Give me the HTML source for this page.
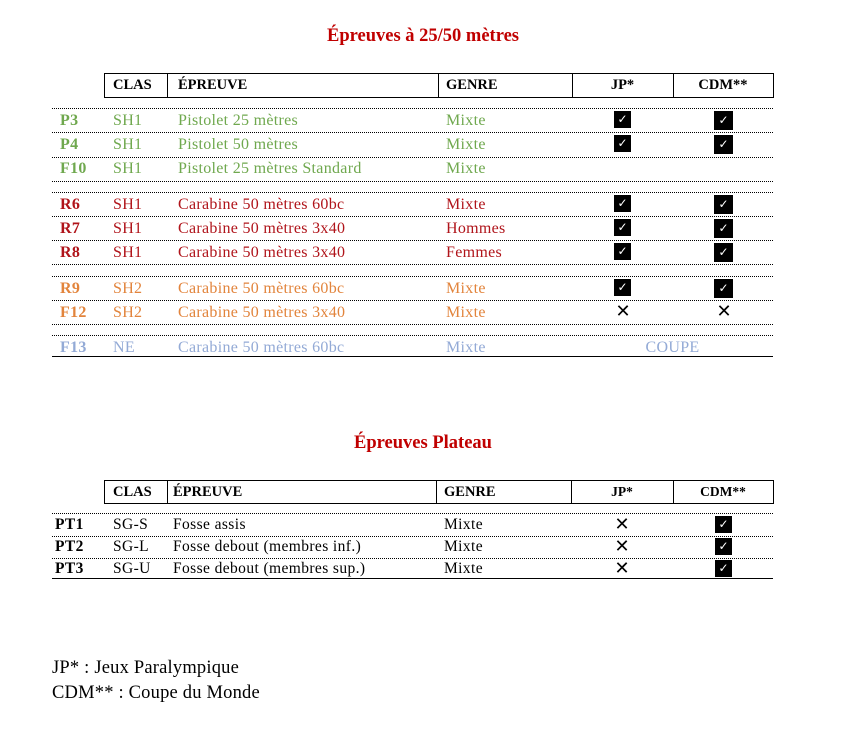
<!DOCTYPE html>
<html><head><meta charset="utf-8"><style>
body{margin:0;width:860px;height:745px;background:#fff;position:relative;overflow:hidden;font-family:"Liberation Serif",serif;}
.t{position:absolute;white-space:nowrap;line-height:20px;height:20px;font-size:16px;letter-spacing:0.3px}
.b{font-weight:bold}
.d{position:absolute;left:52px;width:721px;border-top:1px dotted #000;height:0}
.s{position:absolute;left:52px;width:721px;border-top:1.5px solid #000;height:0}
.hb{position:absolute;left:104px;width:668px;border:1px solid #000;}
.vl{position:absolute;width:0;border-left:1px solid #000}
.g{color:#6fa84e}.r{color:#b0141a}.o{color:#e2843c}.bl{color:#93aad6}
.cb{position:absolute;background:#000;color:#fff;font-family:"DejaVu Sans",sans-serif;font-size:12px;line-height:17px;text-align:center}
.x{position:absolute;font-family:"DejaVu Sans",sans-serif;font-size:18px;line-height:18px;width:20px;text-align:center;color:#000}
.s2{font-size:15.5px;letter-spacing:0.4px}
</style></head><body>
<div class="t b" style="left:0;width:846px;text-align:center;top:26px;font-size:18.5px;letter-spacing:0;color:#c00000">Épreuves à 25/50 mètres</div>
<div class="hb" style="top:73px;height:23px"></div>
<div class="vl" style="left:167px;top:73px;height:24px"></div>
<div class="vl" style="left:438px;top:73px;height:24px"></div>
<div class="vl" style="left:572px;top:73px;height:24px"></div>
<div class="vl" style="left:673px;top:73px;height:24px"></div>
<div class="t b" style="left:113px;top:75px;font-size:14.5px;letter-spacing:0">CLAS</div>
<div class="t b" style="left:178px;top:75px;font-size:14.5px;letter-spacing:0">ÉPREUVE</div>
<div class="t b" style="left:446px;top:75px;font-size:14.5px;letter-spacing:0">GENRE</div>
<div class="t b" style="left:572px;width:101px;text-align:center;top:75px;font-size:14.5px;letter-spacing:0">JP*</div>
<div class="t b" style="left:673px;width:100px;text-align:center;top:75px;font-size:14.5px;letter-spacing:0">CDM**</div>

<div class="d" style="top:108px"></div><div class="d" style="top:132px"></div><div class="d" style="top:157px"></div>
<div class="d" style="top:181px"></div><div class="d" style="top:192px"></div><div class="d" style="top:216px"></div>
<div class="d" style="top:240px"></div><div class="d" style="top:264px"></div><div class="d" style="top:276px"></div>
<div class="d" style="top:300px"></div><div class="d" style="top:324px"></div><div class="d" style="top:335px"></div>
<div class="s" style="top:356px"></div>

<div class="t b g" style="left:60px;top:111px">P3</div><div class="t g" style="left:113px;top:111px">SH1</div><div class="t g" style="left:178px;top:111px">Pistolet 25 mètres</div><div class="t g" style="left:446px;top:111px">Mixte</div>
<div class="t b g" style="left:60px;top:135px">P4</div><div class="t g" style="left:113px;top:135px">SH1</div><div class="t g" style="left:178px;top:135px">Pistolet 50 mètres</div><div class="t g" style="left:446px;top:135px">Mixte</div>
<div class="t b g" style="left:60px;top:159px">F10</div><div class="t g" style="left:113px;top:159px">SH1</div><div class="t g" style="left:178px;top:159px">Pistolet 25 mètres Standard</div><div class="t g" style="left:446px;top:159px">Mixte</div>
<div class="t b r" style="left:60px;top:195px">R6</div><div class="t r" style="left:113px;top:195px">SH1</div><div class="t r" style="left:178px;top:195px">Carabine 50 mètres 60bc</div><div class="t r" style="left:446px;top:195px">Mixte</div>
<div class="t b r" style="left:60px;top:219px">R7</div><div class="t r" style="left:113px;top:219px">SH1</div><div class="t r" style="left:178px;top:219px">Carabine 50 mètres 3x40</div><div class="t r" style="left:446px;top:219px">Hommes</div>
<div class="t b r" style="left:60px;top:243px">R8</div><div class="t r" style="left:113px;top:243px">SH1</div><div class="t r" style="left:178px;top:243px">Carabine 50 mètres 3x40</div><div class="t r" style="left:446px;top:243px">Femmes</div>
<div class="t b o" style="left:60px;top:279px">R9</div><div class="t o" style="left:113px;top:279px">SH2</div><div class="t o" style="left:178px;top:279px">Carabine 50 mètres 60bc</div><div class="t o" style="left:446px;top:279px">Mixte</div>
<div class="t b o" style="left:60px;top:303px">F12</div><div class="t o" style="left:113px;top:303px">SH2</div><div class="t o" style="left:178px;top:303px">Carabine 50 mètres 3x40</div><div class="t o" style="left:446px;top:303px">Mixte</div>
<div class="t b bl" style="left:60px;top:338px">F13</div><div class="t bl" style="left:113px;top:338px">NE</div><div class="t bl" style="left:178px;top:338px">Carabine 50 mètres 60bc</div><div class="t bl" style="left:446px;top:338px">Mixte</div>
<div class="t bl" style="left:572px;width:201px;text-align:center;top:338px">COUPE</div>

<div class="cb" style="left:614px;top:111px;width:17px;height:17px">✓</div><div class="cb" style="left:714px;top:111px;width:19px;height:19px;line-height:19px">✓</div>
<div class="cb" style="left:614px;top:135px;width:17px;height:17px">✓</div><div class="cb" style="left:714px;top:135px;width:19px;height:19px;line-height:19px">✓</div>
<div class="cb" style="left:614px;top:195px;width:17px;height:17px">✓</div><div class="cb" style="left:714px;top:195px;width:19px;height:19px;line-height:19px">✓</div>
<div class="cb" style="left:614px;top:219px;width:17px;height:17px">✓</div><div class="cb" style="left:714px;top:219px;width:19px;height:19px;line-height:19px">✓</div>
<div class="cb" style="left:614px;top:243px;width:17px;height:17px">✓</div><div class="cb" style="left:714px;top:243px;width:19px;height:19px;line-height:19px">✓</div>
<div class="cb" style="left:614px;top:279px;width:17px;height:17px">✓</div><div class="cb" style="left:714px;top:279px;width:19px;height:19px;line-height:19px">✓</div>
<div class="x" style="left:613px;top:303px">✕</div><div class="x" style="left:714px;top:303px">✕</div>

<div class="t b" style="left:0;width:846px;text-align:center;top:433px;font-size:18.5px;letter-spacing:0;color:#c00000">Épreuves Plateau</div>
<div class="hb" style="top:480px;height:22px"></div>
<div class="vl" style="left:167px;top:480px;height:23px"></div>
<div class="vl" style="left:436px;top:480px;height:23px"></div>
<div class="vl" style="left:571px;top:480px;height:23px"></div>
<div class="vl" style="left:673px;top:480px;height:23px"></div>
<div class="t b" style="left:113px;top:482px;font-size:14.5px;letter-spacing:0">CLAS</div>
<div class="t b" style="left:173px;top:482px;font-size:14.5px;letter-spacing:0">ÉPREUVE</div>
<div class="t b" style="left:444px;top:482px;font-size:14.5px;letter-spacing:0">GENRE</div>
<div class="t b" style="left:571px;width:102px;text-align:center;top:482px;font-size:13.5px;letter-spacing:0">JP*</div>
<div class="t b" style="left:673px;width:100px;text-align:center;top:482px;font-size:13.5px;letter-spacing:0">CDM**</div>
<div class="d" style="top:513px"></div><div class="d" style="top:536px"></div><div class="d" style="top:558px"></div>
<div class="s" style="top:578px"></div>
<div class="t b s2" style="left:55px;top:515px">PT1</div><div class="t s2" style="left:113px;top:515px">SG-S</div><div class="t s2" style="left:173px;top:515px">Fosse assis</div><div class="t s2" style="left:444px;top:515px">Mixte</div>
<div class="t b s2" style="left:55px;top:537px">PT2</div><div class="t s2" style="left:113px;top:537px">SG-L</div><div class="t s2" style="left:173px;top:537px">Fosse debout (membres inf.)</div><div class="t s2" style="left:444px;top:537px">Mixte</div>
<div class="t b s2" style="left:55px;top:559px">PT3</div><div class="t s2" style="left:113px;top:559px">SG-U</div><div class="t s2" style="left:173px;top:559px">Fosse debout (membres sup.)</div><div class="t s2" style="left:444px;top:559px">Mixte</div>
<div class="x" style="left:612px;top:516px">✕</div><div class="cb" style="left:715px;top:516px;width:17px;height:17px">✓</div>
<div class="x" style="left:612px;top:538px">✕</div><div class="cb" style="left:715px;top:538px;width:17px;height:17px">✓</div>
<div class="x" style="left:612px;top:560px">✕</div><div class="cb" style="left:715px;top:560px;width:17px;height:17px">✓</div>

<div class="t" style="left:52px;top:658px;font-size:18.5px;letter-spacing:0.2px">JP* : Jeux Paralympique</div>
<div class="t" style="left:52px;top:683px;font-size:18.5px;letter-spacing:0.2px">CDM** : Coupe du Monde</div>
</body></html>
